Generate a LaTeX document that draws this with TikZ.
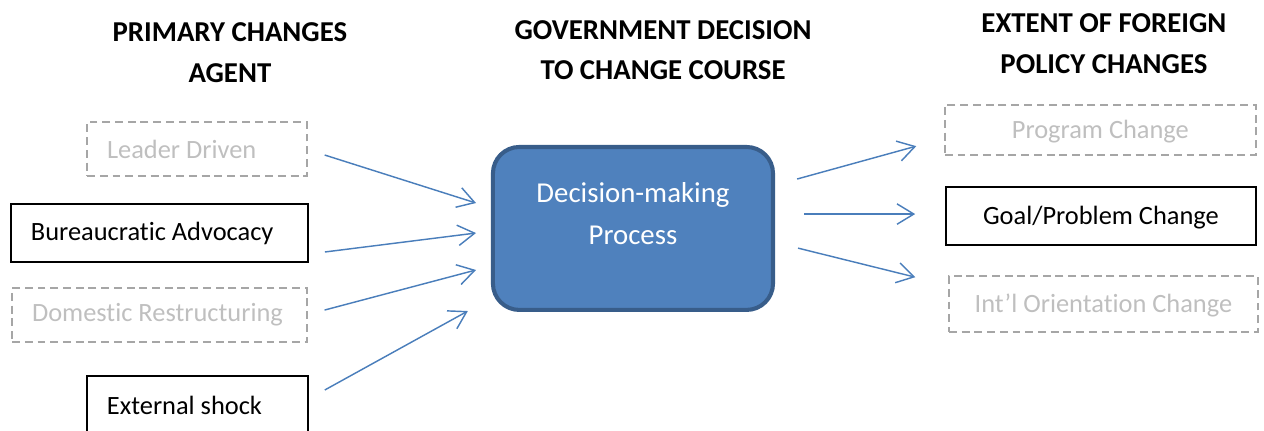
\documentclass[tikz,border=0pt]{standalone}
\usepackage{fontspec}
\setmainfont{Carlito}[Ligatures = NoCommon]
\usetikzlibrary{arrows.meta,calc}

\definecolor{boxblue}{HTML}{4F81BD}
\definecolor{boxedge}{HTML}{385D8A}
\definecolor{arrowblue}{HTML}{4A7EBB}
\definecolor{faded}{HTML}{BFBFBF}
\definecolor{fadedline}{HTML}{A6A6A6}

\tikzset{
	heading/.style = {font = \fontsize{12}{17}\selectfont\bfseries, align = center},
	agent/.style = {draw, line width = 0.8pt, minimum height = 24.2pt, inner xsep = 8.3pt, align = flush left,
		font = \fontsize{11}{13}\selectfont},
	outcome/.style = {draw, line width = 0.8pt, minimum height = 24.2pt, inner sep = 0pt, align = center,
		text height = 9pt, text depth = 2pt, font = \fontsize{11}{13}\selectfont},
	faint/.style = {draw = fadedline, line width = 0.6pt, dash pattern = on 3.3pt off 2pt, text = faded,
		minimum height = 22.5pt},
	procbox/.style = {draw = boxedge, fill = boxblue, line width = 1.7pt, rounded corners = 11pt,
		minimum width = 116.7pt, minimum height = 67.9pt},
	flow/.style = {draw = arrowblue, line width = 0.6pt, -{Straight Barb[length = 7pt, width = 8.5pt]}}
}

\begin{document}
\begin{tikzpicture}[x = 1pt, y = 1pt]
	\useasboundingbox (0,0) rectangle (526.7,179.2);

	% column headings
	\node[heading] (hagent) at (95.8,157.3) {PRIMARY CHANGES\\AGENT};
	\node[heading] (hgov) at (276.3,158.3) {GOVERNMENT DECISION\\TO CHANGE COURSE};
	\node[heading] (hext) at (460,161) {EXTENT OF FOREIGN\\POLICY CHANGES};

	% change agents
	\node[agent, faint, text width = 75pt] (leader) at (82.1,117.1) {Leader Driven};
	\node[agent, text width = 107.2pt] (bureau) at (66.5,82.1) {Bureaucratic Advocacy};
	\node[agent, faint, text width = 106.3pt] (domestic) at (66.5,47.9) {Domestic Restructuring};
	\node[agent, text width = 75.5pt] (shock) at (82.3,10.4) {External shock};

	% decision process
	\node[procbox] (dmp) at (263.75,84) {};
	\node[font = \fontsize{12}{17.5}\selectfont, text = white, align = center] (dmptext)
		at ($(dmp.center)+(0,6)$) {Decision-making\\Process};

	% extent of change
	\node[outcome, faint, minimum width = 129.6pt, minimum height = 20.8pt] (program) at (458.5,125) {Program Change};
	\node[outcome, minimum width = 129.2pt] (goal) at (458.75,89.2) {Goal/Problem Change};
	\node[outcome, faint, minimum width = 128.8pt, minimum height = 23.3pt] (intl) at (459.8,52.5) {Int’l Orientation Change};

	% arrows into the process
	\draw[flow] ($(leader.east)+(7.1,-2.5)$) -- ($(dmp.west)+(-6.2,10.6)$);
	\draw[flow] ($(bureau.east)+(6.6,-7.9)$) -- ($(dmp.west)+(-6.2,-1.9)$);
	\draw[flow] ($(domestic.east)+(7,2.1)$) -- ($(dmp.west)+(-6.2,-17.3)$);
	\draw[flow] ($(shock.east)+(6.6,6.3)$) -- ($(dmp.west)+(-9.6,-34.4)$);

	% arrows out of the process
	\draw[flow] ($(dmp.east)+(9.2,20.6)$) -- ($(program.west)+(-11.6,-6.7)$);
	\draw[flow] ($(dmp.east)+(12.1,6)$) -- ($(goal.west)+(-12.4,0.8)$);
	\draw[flow] ($(dmp.east)+(9.6,-8.2)$) -- ($(intl.west)+(-13.7,11.2)$);
\end{tikzpicture}
\end{document}
